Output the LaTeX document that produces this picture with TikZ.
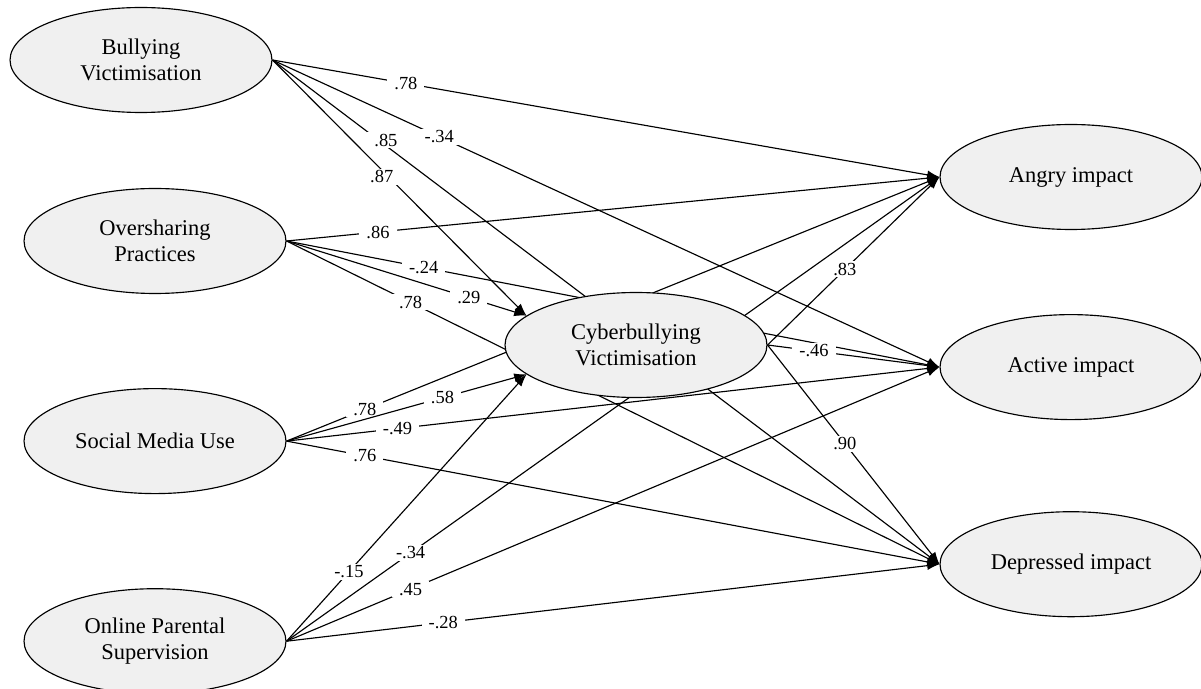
\documentclass[tikz,border=0pt]{standalone}
\usepackage{fontspec}
\setmainfont{Liberation Serif}
\usepackage{tikz}
\usetikzlibrary{positioning, arrows.meta, shapes.geometric, backgrounds}

\begin{document}
\begin{tikzpicture}[x=0.02cm, y=-0.02cm, node distance=1.88cm,
    latent/.style={draw, ellipse, fill=black!6, line width=0.65pt, minimum width=5.24cm, minimum height=2.1cm, inner sep=0pt, align=center, font=\fontsize{12.8}{15}\selectfont},
    effect/.style={-{Latex[length=7pt, width=5pt]}, line width=0.65pt},
    coef/.style={fill=white, inner xsep=4pt, inner ysep=1pt, font=\fontsize{10.5}{12}\selectfont}]
    \useasboundingbox (0,0) rectangle (1201,689);
    % predictors
    \node[latent] (bv) at (141,60) {Bullying\\Victimisation};
    \node[latent] (op) at (155,241) {Oversharing\\Practices};
    \node[latent, below=of op] (sm) {Social Media Use};
    \node[latent, below=of sm] (ps) {Online Parental\\Supervision};
    % mediator
    \node[latent] (cv) at (636,345) {Cyberbullying\\Victimisation};
    % outcomes
    \node[latent] (ang) at (1071,177) {Angry impact};
    \node[latent, below=1.68cm of ang] (act) {Active impact};
    \node[latent, below=1.82cm of act] (dep) {Depressed impact};
    \begin{pgfonlayer}{background}
        \draw[effect] (bv.east) -- node[coef, pos=0.20] {.78} (ang.west);
        \draw[effect] (bv.east) -- node[coef, pos=0.25] {-.34} (act.west);
        \draw[effect] (bv.east) -- node[coef, pos=0.17, yshift=3pt] {.85} (dep.west);
        \draw[effect] (bv.east) -- node[coef, pos=0.43, yshift=-4pt] {.87} (cv.165);
        \draw[effect] (op.east) -- node[coef, pos=0.14] {.86} (ang.west);
        \draw[effect] (op.east) -- node[coef, pos=0.21] {-.24} (act.west);
        \draw[effect] (op.east) -- node[coef, pos=0.76] {.29} (cv.165);
        \draw[effect] (op.east) -- node[coef, pos=0.19] {.78} (dep.west);
        \draw[effect] (sm.east) -- node[coef, pos=0.12] {.78} (ang.west);
        \draw[effect] (sm.east) -- node[coef, pos=0.65] {.58} (cv.195);
        \draw[effect] (sm.east) -- node[coef, pos=0.17] {-.49} (act.west);
        \draw[effect] (sm.east) -- node[coef, pos=0.12] {.76} (dep.west);
        \draw[effect] (ps.east) -- node[coef, pos=0.26] {-.15} (cv.195);
        \draw[effect] (ps.east) -- node[coef, pos=0.19] {-.34} (ang.west);
        \draw[effect] (ps.east) -- node[coef, pos=0.19] {.45} (act.west);
        \draw[effect] (ps.east) -- node[coef, pos=0.24] {-.28} (dep.west);
        \draw[effect] (cv.east) -- node[coef, pos=0.45] {.83} (ang.west);
        \draw[effect] (cv.east) -- node[coef, pos=0.27] {-.46} (act.west);
        \draw[effect] (cv.east) -- node[coef, pos=0.45] {.90} (dep.west);
    \end{pgfonlayer}
\end{tikzpicture}
\end{document}
